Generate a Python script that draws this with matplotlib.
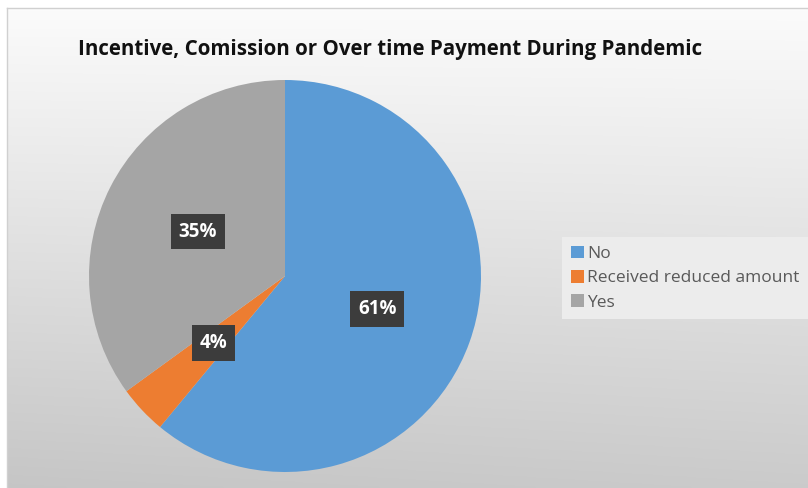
import numpy as np
import matplotlib
matplotlib.use('Agg')
import matplotlib.pyplot as plt

plt.rcParams['font.family'] = ['Open Sans', 'DejaVu Sans']

# data
categories = ['No', 'Received reduced amount', 'Yes']
shares = [61, 4, 35]
colors = ['#5B9BD5', '#ED7D31', '#A5A5A5']
title = 'Incentive, Comission or Over time Payment During Pandemic'

W, H = 808, 488
fig = plt.figure(figsize=(W / 100, H / 100), dpi=100)
fig.patch.set_facecolor('white')

# chart area background: light at the top, grey at the bottom
bg = fig.add_axes([7 / W, 0, 1 - 7 / W, 1 - 8 / H], zorder=0)
yy, xx = np.mgrid[0:1:200j, 0:1:200j]
shade = 0.985 - 0.19 * yy - 0.02 * (1 - xx) * yy
bg.imshow(np.dstack([shade] * 3), aspect='auto', extent=[0, 1, 1, 0])
bg.set_axis_off()
fig.add_artist(plt.Line2D([7 / W, 1], [1 - 8 / H] * 2, color='#d0d0d0', lw=1))
fig.add_artist(plt.Line2D([7 / W] * 2, [0, 1 - 8 / H], color='#d0d0d0', lw=1))

# pie
cx, cy, r = 285, H - 276, 196
ax = fig.add_axes([(cx - r) / W, (cy - r) / H, 2 * r / W, 2 * r / H], zorder=1)
wedges, texts, autotexts = ax.pie(shares, colors=colors, startangle=90,
                                  counterclock=False, autopct='%d%%',
                                  pctdistance=0.5, radius=1)
for t in autotexts:
    t.set_color('white')
    t.set_fontweight('bold')
    t.set_fontsize(13.5)
    t.set_bbox(dict(boxstyle='square,pad=0.42', facecolor='#3c3c3c',
                    edgecolor='none'))
ax.set_xlim(-1, 1)
ax.set_ylim(-1, 1)
ax.set_aspect('auto')
ax.set_axis_off()

fig.text(390 / W, 1 - 50 / H, title, ha='center', va='center',
         fontsize=14.8, fontweight='bold', color='#111111')

leg = fig.legend(wedges, categories, loc='upper left',
                 bbox_to_anchor=(562 / W, 1 - 237 / H), frameon=True,
                 fontsize=12.5, handlelength=0.75, handleheight=0.75,
                 handletextpad=0.2, labelspacing=0.45, borderpad=0.5,
                 borderaxespad=0, fancybox=False)
leg.get_frame().set_facecolor('#ececec')
leg.get_frame().set_edgecolor('none')
leg.get_frame().set_alpha(1)
for t in leg.get_texts():
    t.set_color('#595959')

fig.savefig('out.png', dpi=100)
